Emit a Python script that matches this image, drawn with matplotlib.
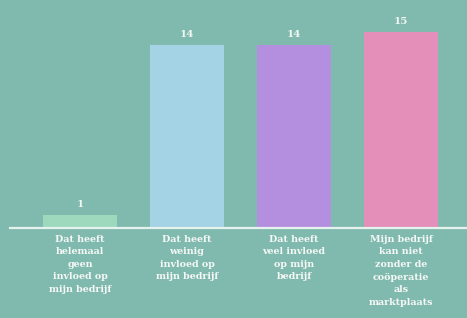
import matplotlib; matplotlib.use("Agg")
import matplotlib.pyplot as plt

categories = ["Dat heeft\nhelemaal\ngeen\ninvloed op\nmijn bedrijf",
              "Dat heeft\nweinig\ninvloed op\nmijn bedrijf",
              "Dat heeft\nveel invloed\nop mijn\nbedrijf",
              "Mijn bedrijf\nkan niet\nzonder de\ncoöperatie\nals\nmarktplaats"]
values = [1, 14, 14, 15]
colors = ["#9ed8bd", "#a3d3e5", "#b48fe0", "#e38fb9"]

bg = "#80b9ad"
fig = plt.figure(figsize=(4.67, 3.18), dpi=100, facecolor=bg)
ax = fig.add_axes([10/467, 90/318, 457/467, 209/318], facecolor=bg)
x = range(len(values))
bars = ax.bar(x, values, width=0.69, color=colors)
for xi, v in zip(x, values):
    ax.text(xi, v + 0.45, str(v), ha="center", va="bottom", color="#f2f7f4",
            fontsize=7.5, family="DejaVu Serif", fontweight="bold")
ax.set_xlim(-0.654, 3.617)
ax.set_ylim(0, 16)
for s in ["top", "right", "left"]:
    ax.spines[s].set_visible(False)
ax.spines["bottom"].set_color("#e6f2ee")
ax.spines["bottom"].set_linewidth(1.6)
ax.set_yticks([])
ax.set_xticks(list(x))
ax.set_xticklabels(categories, color="#f4f8f6", fontsize=6.8, family="DejaVu Serif",
                   fontweight="bold", linespacing=1.5)
ax.tick_params(axis="x", length=0, pad=5)
fig.savefig("out.png", dpi=100, facecolor=bg)
